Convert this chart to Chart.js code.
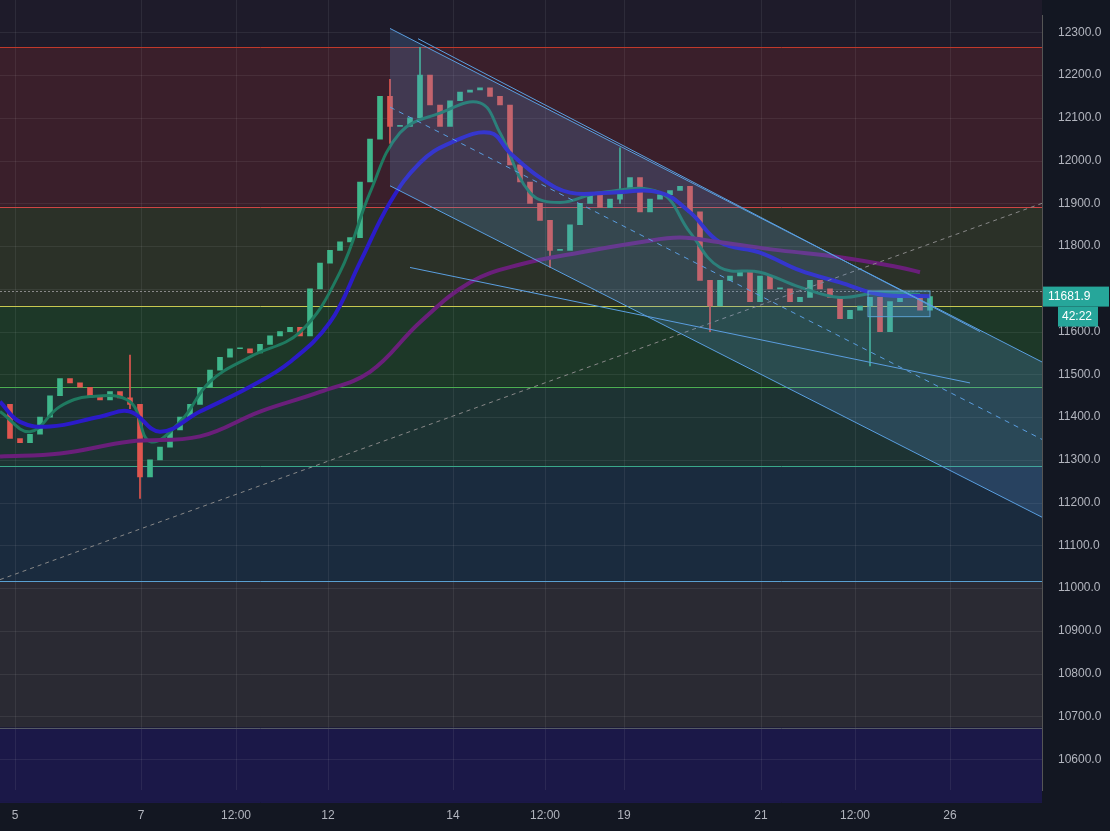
<!DOCTYPE html>
<html><head><meta charset="utf-8">
<script src="https://cdn.jsdelivr.net/npm/chart.js@4.4.1/dist/chart.umd.min.js"></script>
<style>body{margin:0;background:#131722}#w{width:1110px;height:831px}</style>
</head><body><div id="w"><canvas id="c" width="1110" height="831"></canvas></div>
<script>
// closes, one candle per index
const closes=[11430,11350,11340,11360,11400,11450,11490,11480,11470,11450,11440,11460,11445,11430,11260,11300,11330,11370,11400,11430,11470,11510,11540,11560,11560,11550,11570,11590,11600,11610,11590,11700,11760,11790,11810,11820,11950,12050,12150,12080,12080,12100,12200,12130,12080,12140,12160,12165,12170,12150,12130,11990,11950,11900,11860,11790,11790,11850,11900,11920,11890,11910,11930,11960,11880,11910,11920,11930,11940,11880,11720,11660,11720,11730,11740,11670,11730,11700,11700,11670,11680,11720,11700,11680,11630,11650,11660,11680,11600,11670,11680,11680,11650,11682];
const wicks=[[14,11210,11300],[13,11420,11545],[42,12120,12265],[62,11900,12030],[87,11520,11680],[71,11600,11700],[55,11750,11830],[39,12040,12190]];
const blueMA=[[0,11436],[2,11389],[5,11378],[10,11401],[13,11413],[16,11366],[20,11413],[25,11471],[29,11529],[33,11622],[36,11762],[39,11902],[42,11995],[45,12041],[49,12065],[51,12018],[54,11960],[57,11925],[61,11925],[66,11925],[69,11879],[72,11809],[76,11785],[80,11743],[84,11715],[88,11687],[93,11683]];
const purpleMA=[[0,11308],[6,11315],[13,11343],[20,11355],[26,11413],[32,11459],[37,11506],[42,11622],[47,11715],[52,11757],[58,11785],[64,11809],[68,11820],[72,11809],[78,11790],[84,11774],[90,11750],[92,11739]];
const greenMA=[[0,11413],[3,11366],[6,11425],[9,11448],[13,11436],[15,11343],[18,11389],[21,11483],[25,11541],[30,11599],[34,11739],[37,11925],[40,12065],[44,12111],[48,12135],[50,12065],[53,11925],[56,11902],[60,11925],[66,11925],[69,11832],[72,11750],[76,11739],[80,11704],[84,11680],[88,11692],[92,11687]];
const chanUpper=[[39,12309],[104.2,11529]];
const chanLower=[[39,11941],[104.2,11166]];
const chanMid=[[39,12125],[104.2,11348]];
const line2=[[41.8,12285],[98,11600]];
const line3=[[41,11750],[97,11480]];
const diagDash=[[0,11020],[104.2,11900]];
const levels=[[12400,12265,'#1e1b2a','#c0392b'],[12265,11892,'#3a1f2b','#d04545'],[11892,11660,'#2b3128','#c8c850'],[11660,11471,'#1d3828','#4caf50'],[11471,11285,'#1d3333','#3aa88a'],[11285,11017,'#1a2b3e','#5aa0d0'],[11017,10674,'#2a2a33','#555a66'],[10674,10500,'#1b1848','#1b1848']];
const xTickPos=[1.5,14.1,23.6,32.8,45.3,54.5,62.4,76.1,85.5,95.0];
const xTickLbl=['5','7','12:00','12','14','12:00','19','21','12:00','26'];
const lastPrice=11681.9, countdown='42:22';

const bodies=closes.map((c,i)=>({x:i,y:[i?closes[i-1]:c,c]}));
const bodyCol=closes.map((c,i)=>c>=(i?closes[i-1]:c)?'#3fb68b':'#e0564f');
const pts=a=>a.map(p=>({x:p[0],y:p[1]}));
const bg={id:'bg',beforeDatasetsDraw(ch){const {ctx,chartArea:a,scales:{y}}=ch;ctx.save();
 levels.forEach((l,i)=>{const t=i===0?0:y.getPixelForValue(l[0]),b=y.getPixelForValue(l[1]);ctx.fillStyle=l[2];ctx.fillRect(a.left,t,a.right-a.left,b-t);});
 ctx.strokeStyle='rgba(255,255,255,0.07)';ctx.lineWidth=1;
 y.ticks.forEach(t=>{const p=Math.round(y.getPixelForValue(t.value))+.5;ctx.beginPath();ctx.moveTo(a.left,p);ctx.lineTo(a.right,p);ctx.stroke();});
 xTickPos.forEach(v=>{const p=Math.round(ch.scales.x.getPixelForValue(v))+.5;ctx.beginPath();ctx.moveTo(p,0);ctx.lineTo(p,a.bottom);ctx.stroke();});
 levels.forEach(l=>{const b=Math.round(y.getPixelForValue(l[1]))+.5;ctx.strokeStyle=l[3];ctx.beginPath();ctx.moveTo(a.left,b);ctx.lineTo(a.right,b);ctx.stroke();});
 const d=Math.round(y.getPixelForValue(11695))+.5;ctx.setLineDash([2,2]);ctx.strokeStyle='#888';ctx.beginPath();ctx.moveTo(a.left,d);ctx.lineTo(a.right,d);ctx.stroke();ctx.setLineDash([]);
 ctx.restore();},
 afterDraw(ch){const {ctx,chartArea:a,scales:{x,y}}=ch;ctx.save();
 const bx1=x.getPixelForValue(86.8),bx2=x.getPixelForValue(93),by1=y.getPixelForValue(11695),by2=y.getPixelForValue(11635);
 ctx.fillStyle='rgba(80,160,220,0.25)';ctx.fillRect(bx1,by1,bx2-bx1,by2-by1);ctx.strokeStyle='#5aa0d0';ctx.strokeRect(bx1,by1,bx2-bx1,by2-by1);
 const p=y.getPixelForValue(lastPrice);ctx.fillStyle='#26a69a';ctx.fillRect(a.right+1,p-10,66,20);ctx.fillRect(a.right+16,p+10,40,20);
 ctx.fillStyle='#fff';ctx.font='12px "Liberation Sans"';ctx.textBaseline='middle';ctx.fillText(lastPrice.toFixed(1),a.right+6,p);ctx.fillText(countdown,a.right+20,p+20);
 ctx.restore();}};
const ln=(d,c,w,extra)=>Object.assign({type:'line',data:pts(d),borderColor:c,borderWidth:w,pointRadius:0,tension:0.4,fill:false},extra||{});
new Chart(document.getElementById('c'),{
 type:'bar',
 data:{datasets:[
  ln(chanUpper,'#5a9fe0',1,{tension:0}),
  ln(chanLower,'#5a9fe0',1,{tension:0,fill:'-1',backgroundColor:'rgba(90,150,220,0.22)'}),
  ln(chanMid,'#5a9fe0',1,{tension:0,borderDash:[5,5]}),
  ln(line2,'#5a9fe0',1,{tension:0}),
  ln(line3,'#5a9fe0',1,{tension:0}),
  ln(diagDash,'#888',1,{tension:0,borderDash:[4,4]}),
  ln(purpleMA,'#6a1f7a',4),
  ln(blueMA,'#2b1bc9',4),
  ln(greenMA,'#1f7a60',3),
  {type:'bar',data:wicks.map(w=>({x:w[0],y:[w[1],w[2]]})),backgroundColor:wicks.map(w=>bodyCol[w[0]]),barThickness:1,grouped:false},
  {type:'bar',data:bodies,backgroundColor:bodyCol,barThickness:5,grouped:false,minBarLength:1}
 ]},
 options:{responsive:false,animation:false,plugins:{legend:{display:false},tooltip:{enabled:false}},
  layout:{padding:0},
  scales:{
   x:{type:'linear',offset:false,min:0,max:104.2,grid:{display:false},border:{display:false},
     afterBuildTicks(s){s.ticks=xTickPos.map(v=>({value:v}));},
     ticks:{color:'#b2b5be',font:{size:12,family:'Liberation Sans'},autoSkip:false,maxRotation:0,padding:10,callback:(v,i)=>xTickLbl[i]},
     afterFit(s){s.height=41;}},
   y:{position:'right',min:10528,max:12340,grid:{display:false},border:{color:'#555'},
     afterBuildTicks(s){const t=[];for(let v=10600;v<=12300;v+=100)t.push({value:v});s.ticks=t;},
     ticks:{color:'#b2b5be',font:{size:12,family:'Liberation Sans'},padding:8,callback:v=>v===11700?'':v.toFixed(1)},
     afterFit(s){s.width=68;}}
  }},
 plugins:[bg]});
</script></body></html>
